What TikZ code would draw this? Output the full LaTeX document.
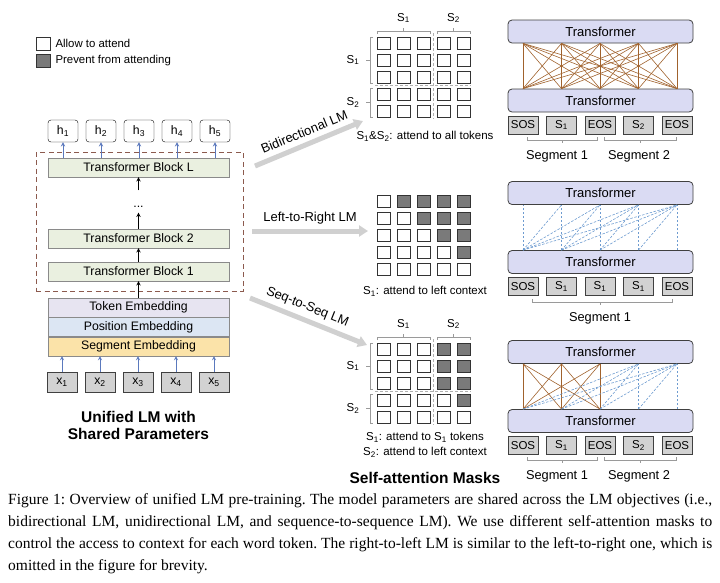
\documentclass[tikz,border=0pt]{standalone}
\usepackage{fontspec}
\setmainfont{Liberation Sans}
\newfontfamily\serifcap{Liberation Serif}
\usetikzlibrary{positioning, arrows.meta}

\definecolor{blockgreen}{HTML}{EAF0E0}
\definecolor{blockline}{HTML}{8A8A8A}
\definecolor{tokemb}{HTML}{E7E4F1}
\definecolor{posemb}{HTML}{DCE6F3}
\definecolor{segemb}{HTML}{FBE3A9}
\definecolor{xgray}{HTML}{D2D2D2}
\definecolor{maskgray}{HTML}{7A7A7A}
\definecolor{framered}{HTML}{8C5A4E}
\definecolor{upblue}{HTML}{5B79BD}
\definecolor{arrowgray}{HTML}{D0D0D0}
\definecolor{translav}{HTML}{DADBF3}
\definecolor{attnbrown}{HTML}{A0622D}
\definecolor{attnblue}{HTML}{6D9BD0}
\definecolor{brkgray}{HTML}{9A9A9A}
\definecolor{divgray}{HTML}{B0B0B0}

\tikzset{
    hbox/.style={draw, rounded corners=3pt, minimum width=30pt, minimum height=22pt, inner sep=0pt},
    xbox/.style={draw=black!75, fill=xgray, minimum width=30pt, minimum height=20pt, inner sep=0pt},
    block/.style={draw=blockline, fill=blockgreen, minimum width=181pt, minimum height=19pt, inner sep=0pt},
    emb/.style={draw=blockline, minimum width=181pt, minimum height=19pt, inner sep=0pt},
    sharedframe/.style={draw=framered, dash pattern=on 5pt off 3.5pt, line width=0.9pt, minimum width=207pt, minimum height=139pt},
    uparrow/.style={->, draw=upblue, line width=0.9pt},
    cell/.style={draw=black!80, line width=0.7pt, minimum width=13pt, minimum height=12pt, inner sep=0pt},
    legend/.style={font=\fontsize{11.4}{13}\selectfont, inner sep=0pt, anchor=west},
    maskcap/.style={font=\fontsize{11.5}{15}\selectfont, inner sep=0pt},
    bigtitle/.style={font=\bfseries\fontsize{15.5}{17}\selectfont, inner sep=0pt},
    maskdiv/.style={draw=divgray, dash pattern=on 3pt off 2pt, line width=0.6pt},
    brk/.style={draw=brkgray, line width=0.6pt},
    bigarrow/.style={draw=arrowgray, line width=5pt, -{Triangle[length=9pt, width=11pt]}},
    lm/.style={font=\fontsize{13}{15}\selectfont, text=black},
    transbox/.style={draw=black!75, fill=translav, rounded corners=4pt, line width=0.8pt, minimum width=185pt, minimum height=23pt, font=\fontsize{13}{15}\selectfont},
    segtok/.style={draw=black!75, fill=xgray, minimum width=30pt, minimum height=18pt, inner sep=0pt, font=\fontsize{11.5}{13}\selectfont},
    segtext/.style={font=\fontsize{12.8}{14}\selectfont, inner sep=0pt},
    fullattn/.style={draw=attnbrown, line width=0.6pt},
    leftattn/.style={draw=attnblue, line width=0.6pt, dash pattern=on 2.5pt off 1.5pt}
}

\begin{document}
\begin{tikzpicture}[x=1pt, y=-1pt, >=stealth, node distance=0pt, font=\fontsize{12.3}{14}\selectfont]

    \useasboundingbox (0,0) rectangle (720,582);

    % Legend
    \node[cell, minimum width=14pt, minimum height=13pt] (allow) at (43,43.5) {};
    \node[cell, minimum width=14pt, minimum height=13pt, fill=maskgray] (prevent) at (43,60.5) {};
    \node[legend, right=5pt of allow] (allowtxt) {Allow to attend};
    \node[legend, right=5pt of prevent] (preventtxt) {Prevent from attending};

    % Unified LM
    \node[sharedframe] (shared) at (139.5,221.5) {};
    \foreach \i in {1,...,5} {
        \node[hbox] (h\i) at ({63+38*(\i-1)},131) {h\textsubscript{\i}};
        \node[xbox] (x\i) at ({62+38*(\i-1)},382) {x\textsubscript{\i}};
    }
    \node[block] (tbL) at (138.5,167.5) {Transformer Block L};
    \node[inner sep=0pt, minimum height=22pt, text height=12pt, text depth=0pt] (dots) at (138.5,201.5) {...};
    \node[block] (tb2) at (138.5,238.5) {Transformer Block 2};
    \node[block] (tb1) at (138.5,271.5) {Transformer Block 1};
    \node[emb, fill=tokemb] (tokE) at (138.5,307.5) {Token Embedding};
    \node[emb, fill=posemb, below=of tokE] (posE) {Position Embedding};
    \node[emb, fill=segemb, below=of posE] (segE) {Segment Embedding};
    \node[bigtitle, align=center] (unified) at (138.5,425.5) {Unified LM with\\Shared Parameters};

    \foreach \i in {1,...,5} {
        \draw[uparrow] (x\i.north) -- (x\i.north |- segE.south);
        \draw[uparrow] (h\i.south |- tbL.north) -- (h\i.south);
    }
    \draw[->, line width=0.9pt] (tokE) -- (tb1);
    \draw[->, line width=0.9pt] (tb1) -- (tb2);
    \draw[->, line width=0.9pt] (tb2) -- (dots);
    \draw[->, line width=0.9pt] (dots) -- (tbL);

    % Objectives
    \coordinate (bi0) at (255,166);
    \coordinate (bi1) at (363,121);
    \coordinate (lr0) at (252,231);
    \coordinate (lr1) at (368,231);
    \coordinate (sq0) at (250,298);
    \coordinate (sq1) at (367,345);
    \draw[bigarrow] (bi0) -- node[lm, sloped, above=2pt] (bitxt) {Bidirectional LM} (bi1);
    \draw[bigarrow] (lr0) -- node[lm, above=1pt] (lrtxt) {Left-to-Right LM} (lr1);
    \draw[bigarrow] (sq0) -- node[lm, sloped, above=1pt, pos=0.45] (sqtxt) {Seq-to-Seq LM} (sq1);

    % Masks
    \foreach \m/\y/\k in {a/43/0, b/201/1, c/349/2}
        \foreach \row in {1,...,5}
            \foreach \col in {1,...,5} {
                \def\f{white}
                \ifnum\k>0 \ifnum\col>\row \def\f{maskgray}\fi\fi
                \ifnum\k=2 \ifnum\col<4 \def\f{white}\fi\fi
                \node[cell, fill=\f] (\m\row\col) at ({383.5+20*(\col-1)},{\y+17*(\row-1)}) {};
            }

    \foreach \m/\y in {a/43, c/349} {
        \draw[maskdiv] (433.5,{\y-10}) -- (433.5,{\y+76});
        \draw[maskdiv] (375,{\y+42.5}) -- (471,{\y+42.5});
        \draw[brk] (377,{\y-9}) -- (377,{\y-12}) -- (430,{\y-12}) -- (430,{\y-9}) (403.5,{\y-12}) -- (403.5,{\y-15});
        \draw[brk] (437,{\y-9}) -- (437,{\y-12}) -- (470,{\y-12}) -- (470,{\y-9}) (453.5,{\y-12}) -- (453.5,{\y-15});
        \draw[brk] (373,{\y-6}) -- (370,{\y-6}) -- (370,{\y+40}) -- (373,{\y+40}) (370,{\y+17}) -- (366,{\y+17});
        \draw[brk] (373,{\y+45}) -- (370,{\y+45}) -- (370,{\y+74}) -- (373,{\y+74}) (370,{\y+59.5}) -- (366,{\y+59.5});
        \node[maskcap] (\m-top1) at (403.5,{\y-25}) {S\textsubscript{1}};
        \node[maskcap] (\m-top2) at (453.5,{\y-25}) {S\textsubscript{2}};
        \node[maskcap] (\m-left1) at (353,{\y+17}) {S\textsubscript{1}};
        \node[maskcap] (\m-left2) at (353,{\y+59.5}) {S\textsubscript{2}};
    }

    \node[maskcap] (capa) at (425,136) {S\textsubscript{1}\&S\textsubscript{2}: attend to all tokens};
    \node[maskcap] (capb) at (425,291) {S\textsubscript{1}: attend to left context};
    \node[maskcap, align=center] (capc) at (425,444.5) {S\textsubscript{1}: attend to S\textsubscript{1} tokens\\S\textsubscript{2}: attend to left context};
    \node[bigtitle] (masks) at (425,478) {Self-attention Masks};

    % Transformers
    \foreach \p/\y in {1/31.5, 2/193, 3/352} {
        \node[transbox] (T\p) at (600.5,\y) {Transformer};
        \node[transbox] (B\p) at (600.5,{\y+69}) {Transformer};
    }
    \foreach \i/\lab in {1/SOS, 2/S\textsubscript{1}, 3/EOS, 4/S\textsubscript{2}, 5/EOS} {
        \node[segtok] (k1\i) at ({523+38.5*(\i-1)},125) {\lab};
        \node[segtok] (k3\i) at ({523+38.5*(\i-1)},445.5) {\lab};
    }
    \foreach \i/\lab in {1/SOS, 2/S\textsubscript{1}, 3/S\textsubscript{1}, 4/S\textsubscript{1}, 5/EOS}
        \node[segtok] (k2\i) at ({523+38.5*(\i-1)},286.5) {\lab};

    \foreach \i in {1,...,5}
        \foreach \j in {1,...,5}
            \draw[fullattn] (B1.north -| k1\i) -- (T1.south -| k1\j);
    \foreach \i in {1,...,5}
        \foreach \j in {\i,...,5}
            \draw[leftattn] (B2.north -| k2\i) -- (T2.south -| k2\j);
    \foreach \i in {1,...,3}
        \foreach \j in {1,...,3}
            \draw[fullattn] (B3.north -| k3\i) -- (T3.south -| k3\j);
    \foreach \j in {4,5}
        \foreach \i in {1,...,\j}
            \draw[leftattn] (B3.north -| k3\i) -- (T3.south -| k3\j);

    \foreach \y in {140, 460} {
        \draw[brk] (527,{\y-3}) -- (527,\y) -- (597,\y) -- (597,{\y-3}) (562,\y) -- (562,{\y+3});
        \draw[brk] (604,{\y-3}) -- (604,\y) -- (676,\y) -- (676,{\y-3}) (640,\y) -- (640,{\y+3});
        \node[segtext] (segone\y) at (557,{\y+16}) {Segment 1};
        \node[segtext] (segtwo\y) at (639,{\y+16}) {Segment 2};
    }
    \draw[brk] (532,299) -- (532,302) -- (672,302) -- (672,299) (600,302) -- (600,305);
    \node[segtext] (segonemid) at (600,318) {Segment 1};

    % Caption
    \node[anchor=north west, inner sep=0pt, align=left, font=\serifcap\fontsize{15.5}{22}\selectfont\frenchspacing] (figcap) at (8,493) {%
        \makebox[704pt][s]{Figure 1: Overview of unified LM pre-training. The model parameters are shared across the LM objectives (i.e.,}\\
        \makebox[704pt][s]{bidirectional LM, unidirectional LM, and sequence-to-sequence LM). We use different self-attention masks to}\\
        \makebox[704pt][s]{control the access to context for each word token. The right-to-left LM is similar to the left-to-right one, which is}\\
        omitted in the figure for brevity.};

\end{tikzpicture}
\end{document}
